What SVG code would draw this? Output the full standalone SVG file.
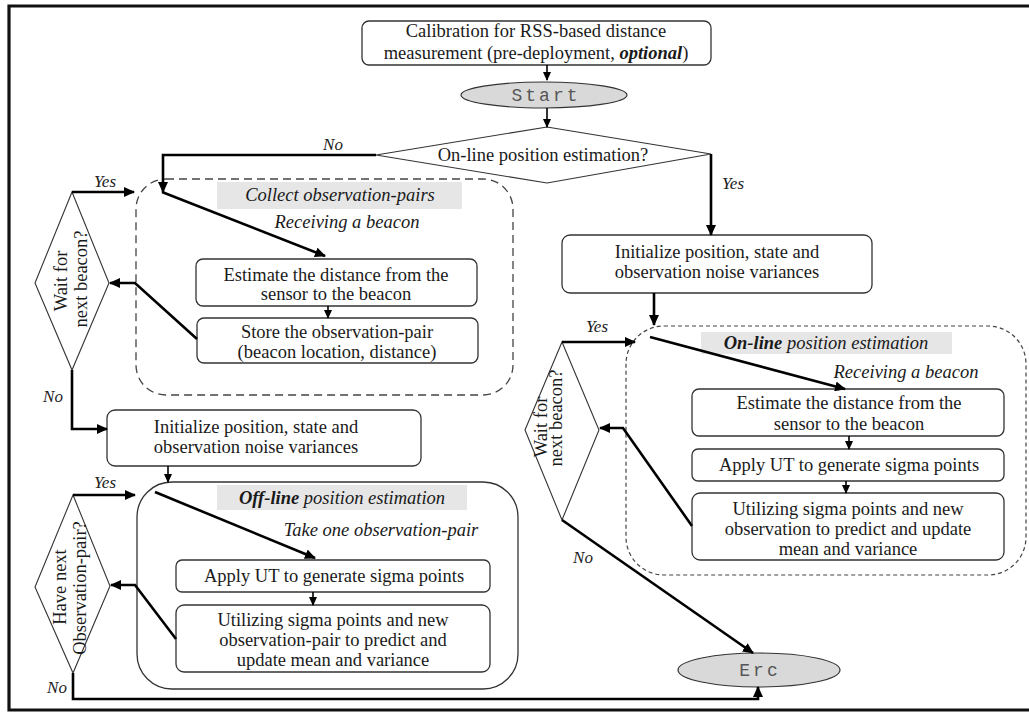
<svg xmlns="http://www.w3.org/2000/svg" width="1029" height="713" viewBox="0 0 1029 713">
<defs>
<marker id="ah" markerUnits="userSpaceOnUse" markerWidth="11" markerHeight="10" refX="10" refY="5" orient="auto">
<path d="M0,0 L11,5 L0,10 Z" fill="#000"/>
</marker>
<marker id="ahs" markerUnits="userSpaceOnUse" markerWidth="9" markerHeight="8" refX="8" refY="4" orient="auto">
<path d="M0,0 L9,4 L0,8 Z" fill="#000"/>
</marker>
</defs>
<style>
text{font-family:"Liberation Serif","Times New Roman",serif;fill:#1a1a1a}
.t{font-size:18.5px;text-anchor:middle}
.lbl{font-size:17px;font-style:italic;text-anchor:middle;fill:#222}
.it{font-size:18.5px;font-style:italic;text-anchor:middle}
.box{fill:#fff;stroke:#333;stroke-width:1.3}
.dia{fill:#fff;stroke:#333;stroke-width:1.1}
.term{fill:#d9d9d9;stroke:#333;stroke-width:1.2}
.termtxt{font-family:"Liberation Mono","DejaVu Sans Mono",monospace;font-size:18px;fill:#555;text-anchor:middle;letter-spacing:3px}
.hdr{fill:#e6e6e6}
.c{fill:none;stroke:#000;stroke-width:2.6}
.cs{fill:none;stroke:#000;stroke-width:1.6}
</style>
<rect x="0" y="0" width="1029" height="713" fill="#fff"/>
<path d="M1029,6 H9 V710 H1029" fill="none" stroke="#111" stroke-width="3.2"/>

<g id="calibration">
<rect class="box" x="362" y="21" width="349" height="44" rx="7"/>
<text class="t" x="536" y="37">Calibration for RSS-based distance</text>
<text class="t" x="536" y="59">measurement (pre-deployment, <tspan font-weight="bold" font-style="italic">optional</tspan>)</text>
</g>

<g id="start">
<ellipse class="term" cx="544" cy="95" rx="83" ry="13"/>
<text class="termtxt" x="546" y="101">Start</text>
</g>

<g id="online-decision">
<polygon class="dia" points="547,127 711,154 547,183 376,155"/>
<text class="t" x="543" y="161">On-line position estimation?</text>
</g>

<g id="collect-group">
<rect x="136" y="179" width="377" height="216" rx="30" fill="none" stroke="#444" stroke-width="1.3" stroke-dasharray="8,5"/>
<rect class="hdr" x="217" y="182" width="245" height="27"/>
<text class="it" x="340" y="201">Collect observation-pairs</text>
<text class="it" x="347" y="228">Receiving a beacon</text>
</g>

<g id="estimate-left">
<rect class="box" x="196" y="259" width="281" height="47" rx="7"/>
<text class="t" x="336" y="281">Estimate the distance from the</text>
<text class="t" x="336" y="300">sensor to the beacon</text>
</g>

<g id="store">
<rect class="box" x="197" y="318" width="281" height="45" rx="7"/>
<text class="t" x="337" y="338">Store the observation-pair</text>
<text class="t" x="337" y="358">(beacon location, distance)</text>
</g>

<g id="wait-left">
<polygon class="dia" points="72,192 109,283 72,370 35,283"/>
<text class="t" transform="translate(67,281) rotate(-90)">Wait for</text>
<text class="t" transform="translate(87,279) rotate(-90)">next beacon?</text>
</g>

<g id="init-left">
<rect class="box" x="107" y="410" width="314" height="56" rx="8"/>
<text class="t" x="256" y="433">Initialize position, state and</text>
<text class="t" x="256" y="453">observation noise variances</text>
</g>

<g id="offline-group">
<rect x="137" y="482" width="381" height="207" rx="35" fill="none" stroke="#333" stroke-width="1.3"/>
<rect class="hdr" x="217" y="485" width="250" height="25"/>
<text class="it" x="342" y="504"><tspan font-weight="bold">Off-line</tspan> position estimation</text>
<text class="it" x="381" y="536">Take one observation-pair</text>
</g>

<g id="apply-left">
<rect class="box" x="176" y="560" width="314" height="32" rx="6"/>
<text class="t" x="334" y="582">Apply UT to generate sigma points</text>
</g>

<g id="utilize-left">
<rect class="box" x="176" y="605" width="314" height="67" rx="8"/>
<text class="t" x="333" y="626">Utilizing sigma points and new</text>
<text class="t" x="333" y="646">observation-pair to predict and</text>
<text class="t" x="333" y="666">update mean and variance</text>
</g>

<g id="have-next">
<polygon class="dia" points="73,495 110,586 73,673 35,587"/>
<text class="t" transform="translate(66,587) rotate(-90)">Have next</text>
<text class="t" transform="translate(86,588) rotate(-90)">Observation-pair?</text>
</g>

<g id="init-right">
<rect class="box" x="562" y="235" width="310" height="58" rx="8"/>
<text class="t" x="717" y="258">Initialize position, state and</text>
<text class="t" x="717" y="278">observation noise variances</text>
</g>

<g id="online-group">
<rect x="626" y="326" width="400" height="249" rx="38" fill="none" stroke="#444" stroke-width="1.2" stroke-dasharray="4,3"/>
<rect class="hdr" x="701" y="332" width="251" height="22"/>
<text class="it" x="826" y="349"><tspan font-weight="bold">On-line</tspan> position estimation</text>
<text class="it" x="906" y="378">Receiving a beacon</text>
</g>

<g id="estimate-right">
<rect class="box" x="692" y="389" width="312" height="47" rx="7"/>
<text class="t" x="849" y="409">Estimate the distance from the</text>
<text class="t" x="849" y="430">sensor to the beacon</text>
</g>

<g id="apply-right">
<rect class="box" x="692" y="449" width="312" height="32" rx="6"/>
<text class="t" x="849" y="471">Apply UT to generate sigma points</text>
</g>

<g id="utilize-right">
<rect class="box" x="692" y="493" width="312" height="67" rx="8"/>
<text class="t" x="848" y="515">Utilizing sigma points and new</text>
<text class="t" x="848" y="535">observation to predict and update</text>
<text class="t" x="848" y="555">mean and variance</text>
</g>

<g id="wait-right">
<polygon class="dia" points="562,342 599,430 562,520 525,430"/>
<text class="t" transform="translate(547,427) rotate(-90)">Wait for</text>
<text class="t" transform="translate(562,418) rotate(-90)">next beacon?</text>
</g>

<g id="end">
<ellipse class="term" cx="759" cy="670" rx="81" ry="17"/>
<text class="termtxt" x="760" y="676">Erc</text>
</g>

<g id="connectors">
<path class="cs" d="M547,65 V80" marker-end="url(#ahs)"/>
<path class="cs" d="M547,108 V127" marker-end="url(#ahs)"/>
<path class="c" d="M376,155 H163 V192" marker-end="url(#ah)"/>
<text class="lbl" x="333" y="150">No</text>
<path class="c" d="M711,154 V235" marker-end="url(#ah)"/>
<text class="lbl" x="733" y="189">Yes</text>
<path class="c" d="M162,192 L325,256" marker-end="url(#ah)"/>
<path class="cs" d="M328,306 V318" marker-end="url(#ahs)"/>
<path class="c" d="M197,339 L135,283 H110" marker-end="url(#ah)"/>
<path class="c" d="M72,192 H134" marker-end="url(#ah)"/>
<text class="lbl" x="105" y="187">Yes</text>
<path class="c" d="M72,370 V429 H107" marker-end="url(#ah)"/>
<text class="lbl" x="53" y="402">No</text>
<path class="cs" d="M168,466 V482" marker-end="url(#ahs)"/>
<path class="c" d="M155,492 L315,558" marker-end="url(#ah)"/>
<path class="cs" d="M313,592 V605" marker-end="url(#ahs)"/>
<path class="c" d="M176,639 L135,585 H111" marker-end="url(#ah)"/>
<path class="c" d="M73,495 H135" marker-end="url(#ah)"/>
<text class="lbl" x="105" y="488">Yes</text>
<path class="c" d="M73,673 V699 H758 V687" marker-end="url(#ah)"/>
<text class="lbl" x="57" y="693">No</text>
<path class="c" d="M654,293 V325" marker-end="url(#ah)"/>
<path class="c" d="M650,337 L845,389" marker-end="url(#ah)"/>
<path class="cs" d="M849,436 V449" marker-end="url(#ahs)"/>
<path class="cs" d="M846,481 V493" marker-end="url(#ahs)"/>
<path class="c" d="M692,526 L623,428 H600" marker-end="url(#ah)"/>
<path class="c" d="M562,342 H635" marker-end="url(#ah)"/>
<text class="lbl" x="597" y="332">Yes</text>
<path class="c" d="M562,520 L753,653" marker-end="url(#ah)"/>
<text class="lbl" x="583" y="563">No</text>
</g>
</svg>
